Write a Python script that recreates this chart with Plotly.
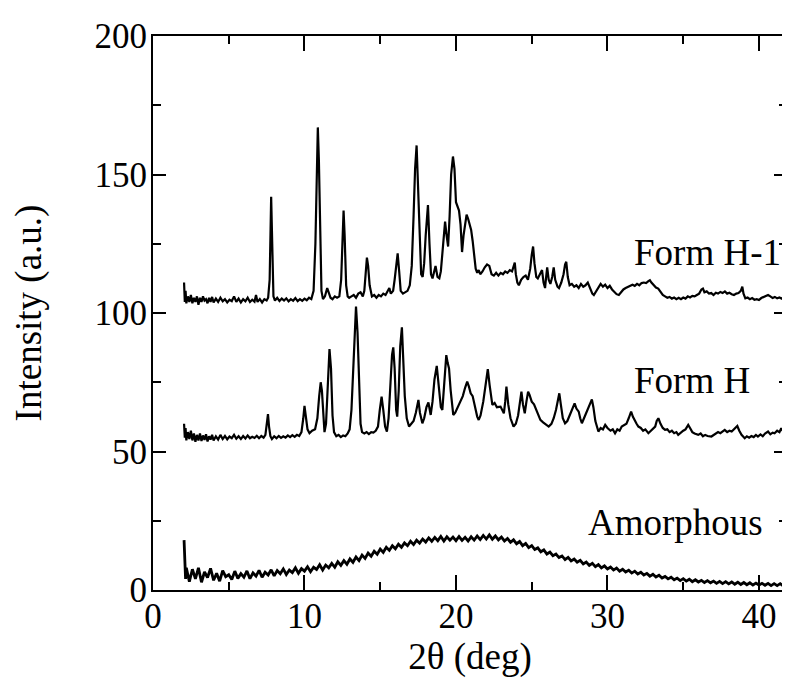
import plotly.graph_objects as go

# ---- Form H-1 ----
h1_x = [2.05,2.1,2.15,2.2,2.3,2.4,2.5,2.6,2.7,2.8,2.9,3.0,3.1,3.2,3.3,3.4,3.5,3.6,3.7,3.8,3.9,4.0,4.15,4.3,4.45,4.6,4.75,4.9,5.05,5.2,5.35,5.5,5.65,5.8,5.95,6.1,6.25,6.4,6.55,6.7,6.8,6.9,7.05,7.2,7.35,7.5,7.6,7.7,7.8,7.88,7.95,8.05,8.2,8.35,8.5,8.65,8.8,8.95,9.1,9.25,9.4,9.55,9.7,9.85,10.0,10.15,10.3,10.45,10.6,10.72,10.8,10.88,10.95,11.03,11.12,11.22,11.35,11.5,11.62,11.72,11.85,12.0,12.15,12.3,12.42,12.5,12.58,12.65,12.75,12.85,12.95,13.1,13.25,13.4,13.55,13.7,13.85,13.95,14.05,14.12,14.2,14.3,14.45,14.6,14.75,14.9,15.05,15.2,15.35,15.5,15.6,15.7,15.85,15.95,16.05,16.15,16.25,16.35,16.5,16.65,16.8,16.95,17.08,17.2,17.3,17.4,17.48,17.58,17.7,17.8,17.9,18.0,18.1,18.15,18.25,18.35,18.45,18.55,18.65,18.78,18.9,19.0,19.1,19.2,19.28,19.38,19.48,19.58,19.68,19.8,19.9,20.0,20.1,20.2,20.3,20.4,20.5,20.6,20.7,20.8,20.9,21.0,21.1,21.2,21.3,21.4,21.5,21.6,21.75,21.9,22.05,22.2,22.35,22.5,22.65,22.8,22.95,23.1,23.25,23.4,23.55,23.7,23.8,23.88,23.95,24.05,24.15,24.3,24.45,24.6,24.75,24.9,25.0,25.09,25.18,25.3,25.4,25.55,25.68,25.78,25.88,25.95,26.02,26.12,26.23,26.35,26.45,26.55,26.7,26.8,26.95,27.1,27.2,27.28,27.38,27.5,27.65,27.8,27.95,28.1,28.25,28.4,28.55,28.7,28.85,29.0,29.1,29.25,29.4,29.55,29.7,29.85,30.0,30.15,30.3,30.45,30.6,30.75,30.9,31.05,31.2,31.35,31.5,31.65,31.8,31.95,32.1,32.25,32.4,32.55,32.7,32.8,32.9,33.05,33.2,33.35,33.5,33.65,33.8,33.95,34.1,34.25,34.4,34.55,34.7,34.85,35.0,35.15,35.3,35.45,35.6,35.75,35.9,36.05,36.2,36.3,36.4,36.55,36.7,36.85,37.0,37.15,37.3,37.45,37.6,37.75,37.9,38.05,38.2,38.35,38.5,38.65,38.8,38.9,38.98,39.1,39.25,39.4,39.55,39.7,39.85,40.0,40.15,40.3,40.45,40.6,40.75,40.9,41.05,41.2,41.35,41.5,41.65,41.8]
h1_y = [111,104,108,103.5,106,104,106.5,103.5,105.5,104,106,103,105.5,104,106,104.5,105,103.5,105.5,104,105.8,103.8,105.2,104,105.5,104.2,105,103.8,104.8,104.3,106,104,105.2,103.8,105,104.2,105.5,104,104.8,104.1,106.5,104,105,103.8,105,104.5,105.5,112,142,118,106,104.5,105.5,104.3,105.2,104.5,105.3,104.2,105,104.4,105.4,104.3,105,104.4,105.2,104.6,105.5,105,108,125,150,167,155,125,108,105,106,109,107,105.5,105,106,105.5,106,112,125,137,128,110,106,105.5,106,106.5,105.5,107,107.5,106,108,115,120,117,110,106,106.5,105.5,106.5,106,107,106.5,108,109,107,108,112,117,121.5,115,108,107,107.5,108,110,117,135,152,160.5,148,125,114,113,118,128,137,139,125,114,112.5,115,117,113,112.5,115,122,130,133,128,124,135,150,156.5,152,140,138,137,132,122,128,133,135.5,134,132,130,126,121,116,114.5,115.5,114,115,116.5,117.5,117,114,113.5,114.5,113.5,114.5,114,115,114.5,115.5,115,117,118.2,114,111,110,112,113,113.5,112,116,121,124,118,113,112.5,114,115.5,111,109,113,116.5,112,110.5,113,116.5,112,109.5,109,111,114,117.5,118.5,113,110,110.5,109.5,110,109,110.5,109.5,110,111,109,107,106.5,108,109.5,110.5,109.5,110.2,109,109.8,108.5,107.5,106.8,106.5,107.5,108.5,109,109.5,110,110.2,109.8,110.5,110,110.8,111,110.8,111.5,111.8,111,110,109.2,108.8,107.8,106.5,106,105.5,105.8,105.2,105.6,105,105.5,105,105.6,105.2,106,105.6,106.2,106,106.5,107,108.5,108.8,107.5,107.8,107,107.2,106.5,107.3,107,107.6,107.2,107.8,107,107.3,106.8,106.5,107,107.2,108,109.5,107,105.3,105.6,105,105.4,104.8,105,104.7,105.4,105.8,106.3,106.5,106,105.4,105.8,105.3,105.6,105.2,106,105.9]

# ---- Form H ----
h_x = [2.05,2.1,2.15,2.2,2.3,2.4,2.5,2.6,2.7,2.8,2.9,3.0,3.1,3.2,3.3,3.4,3.5,3.6,3.7,3.8,3.9,4.0,4.15,4.3,4.45,4.6,4.75,4.9,5.05,5.2,5.35,5.5,5.65,5.8,5.95,6.1,6.25,6.4,6.55,6.7,6.85,7.0,7.15,7.3,7.42,7.52,7.59,7.66,7.75,7.85,8.0,8.15,8.3,8.45,8.6,8.75,8.9,9.05,9.2,9.35,9.5,9.65,9.8,9.92,10.0,10.08,10.2,10.33,10.5,10.7,10.85,10.97,11.07,11.15,11.25,11.32,11.42,11.55,11.65,11.75,11.85,11.95,12.1,12.25,12.4,12.55,12.7,12.85,12.98,13.1,13.2,13.3,13.4,13.5,13.6,13.7,13.8,13.95,14.1,14.25,14.4,14.55,14.7,14.85,14.97,15.09,15.2,15.32,15.44,15.55,15.68,15.78,15.86,15.95,16.05,16.12,16.22,16.32,16.43,16.52,16.62,16.75,16.9,17.05,17.2,17.35,17.45,17.52,17.62,17.78,17.9,18.05,18.18,18.33,18.45,18.58,18.73,18.85,19.0,19.1,19.22,19.36,19.45,19.54,19.65,19.82,19.95,20.1,20.3,20.45,20.6,20.74,20.85,20.97,21.1,21.25,21.4,21.5,21.62,21.8,21.95,22.1,22.22,22.4,22.55,22.7,22.94,23.05,23.16,23.25,23.33,23.45,23.6,23.8,23.95,24.1,24.22,24.32,24.42,24.54,24.65,24.76,24.85,25.0,25.15,25.3,25.45,25.57,25.75,25.95,26.12,26.3,26.45,26.6,26.72,26.82,26.92,27.05,27.2,27.35,27.5,27.65,27.83,27.95,28.1,28.2,28.31,28.45,28.6,28.75,28.9,28.97,29.07,29.2,29.4,29.55,29.7,29.85,30.0,30.2,30.35,30.5,30.65,30.8,30.94,31.1,31.25,31.4,31.56,31.68,31.8,31.92,32.04,32.2,32.35,32.5,32.7,32.85,33.0,33.15,33.25,33.36,33.5,33.65,33.8,33.95,34.1,34.25,34.4,34.55,34.67,34.85,35.0,35.15,35.33,35.45,35.6,35.75,35.99,36.15,36.3,36.45,36.6,36.86,37.0,37.15,37.3,37.45,37.6,37.74,37.9,38.05,38.2,38.35,38.5,38.57,38.7,38.85,39.06,39.2,39.35,39.5,39.65,39.8,39.93,40.1,40.25,40.4,40.6,40.75,40.9,41.03,41.2,41.35,41.47,41.6,41.8]
h_y = [60,55,58.5,54,57,54.5,57.5,54,56.5,53.5,56,54,56.5,53.8,55.8,54.2,56.2,53.6,55.5,54.3,56,54,55.5,54.3,56,54.5,55.6,54.4,55.4,54.8,56,54.6,55.5,54.5,55.6,54.7,55.8,54.8,55.3,54.9,55.7,54.8,55.6,55,56,60,63.5,59,55.5,54.5,55.5,54.8,55.6,54.9,55.5,55,55.8,55.2,55.9,55.3,56,55.6,57,62,66.5,63,58,56.6,57.5,58,62,70,75,72,62,57,60,75,87,80,63,57,55.5,56,55.2,55.8,55.5,56.5,58,65,78,95,102.3,93,72,60,57,56.5,57,56.3,57,56.8,57.5,59,65,69.8,65,59,57.2,62,75,85,87.6,80,65,62.6,72,88,94.8,85,70,62,59,60,61,64,67.5,68.6,64,60.2,62,66,67.7,63.2,68,76,80.9,74,66,65,76,84.8,82,80,72,63.2,64,66,68,70,73,75.2,73.5,71,70,66,62.6,61.4,63,68,75,79.7,74,66.8,67.5,66,66.2,65,63.8,68,73.4,67,62,59,60,63,68,71.6,67,63.8,68,71.6,70.5,68,67,65,63,61.4,60.5,59.5,59,60,62,65,68,71,67,62,60.2,61,63,65,67.4,65.5,64.4,62,60.2,62,64,66.5,68,68.8,66,61,57.2,58.5,58,59.6,58.5,57.5,58,56.6,58,57.5,59,59.5,60,62,64.4,62.5,61,60,59,58.5,57.5,58,56.6,57.5,58,59,61,62,60,58.5,57.8,58,57,57.5,56.6,57,56,57,57.5,58,59.6,58.5,57,56.5,56,56.5,55.5,56,55.6,55.4,56,56.5,57,56.6,57.2,57.8,57,57.5,57.2,58,58.5,59.2,57.5,56,54.8,55.5,55,55.6,55.2,56,55.4,56.2,55.5,56.5,57.2,56.2,56.8,56.6,57.5,57,58.4,57.2,56.6]

# ---- Amorphous ----
am_x = [2.05,2.1,2.15,2.2,2.4,2.6,2.8,3.0,3.2,3.4,3.6,3.8,4.0,4.2,4.4,4.6,4.8,5.0,5.2,5.4,5.6,5.8,6.0,6.2,6.4,6.6,6.8,7.0,7.2,7.4,7.6,7.8,8.0,8.2,8.4,8.6,8.8,9.0,9.2,9.4,9.6,9.8,10.0,10.2,10.4,10.6,10.8,11.0,11.2,11.4,11.6,11.8,12.0,12.2,12.4,12.6,12.8,13.0,13.2,13.4,13.6,13.8,14.0,14.2,14.4,14.6,14.8,15.0,15.2,15.4,15.6,15.8,16.0,16.2,16.4,16.6,16.8,17.0,17.2,17.4,17.6,17.8,18.0,18.2,18.4,18.6,18.8,19.0,19.2,19.4,19.6,19.8,20.0,20.2,20.4,20.6,20.8,21.0,21.2,21.4,21.6,21.8,22.0,22.2,22.4,22.6,22.8,23.0,23.2,23.4,23.6,23.8,24.0,24.2,24.4,24.6,24.8,25.0,25.2,25.4,25.6,25.8,26.0,26.2,26.4,26.6,26.8,27.0,27.2,27.4,27.6,27.8,28.0,28.2,28.4,28.6,28.8,29.0,29.2,29.4,29.6,29.8,30.0,30.2,30.4,30.6,30.8,31.0,31.2,31.4,31.6,31.8,32.0,32.2,32.4,32.6,32.8,33.0,33.2,33.4,33.6,33.8,34.0,34.2,34.4,34.6,34.8,35.0,35.2,35.4,35.6,35.8,36.0,36.2,36.4,36.6,36.8,37.0,37.2,37.4,37.6,37.8,38.0,38.2,38.4,38.6,38.8,39.0,39.2,39.4,39.6,39.8,40.0,40.2,40.4,40.6,40.8,41.0,41.2,41.4,41.6,41.8]
am_y = [18,9,4,8,3,7.5,4,8,2.8,6.5,4.5,7.8,3.5,6,3.2,7,4.8,5.5,3.8,6.8,4.2,5.9,4.6,6.9,4.1,6.2,5,7.1,4.6,6.4,5.4,7.3,5.1,7,5.9,7.6,5.6,7.2,6.3,8,6,7.7,6.8,8.4,6.6,8.2,7.4,9.1,7.2,9,8,9.6,8.2,10.2,8.9,10.6,9.3,11.2,10,11.9,10.6,12.6,11.4,13.3,12.2,14,12.9,14.8,13.6,15.4,14.3,16,14.9,16.5,15.4,17,16,17.6,16.4,18,16.9,18.4,17.3,18.8,17.6,19,17.8,19.3,17.7,19.2,18,19.1,17.8,19.3,17.9,19,17.7,19.2,18,19.5,18.2,19.7,18.4,19.9,18.3,19.5,18.1,19.1,17.7,18.6,17.2,18.1,16.7,17.5,16,16.8,15.3,16,14.6,15.2,13.8,14.5,13,13.7,12.4,13,11.7,12.3,11,11.8,10.5,11.2,10,10.7,9.4,10.1,8.9,9.6,8.4,9.2,8,8.7,7.6,8.3,7.2,7.9,6.8,7.5,6.5,7.1,6.1,6.8,5.8,6.4,5.4,6,5,5.7,4.7,5.3,4.3,4.9,4,4.6,3.7,4.3,3.4,4.1,3.2,3.9,3,3.7,2.9,3.5,2.7,3.4,2.6,3.2,2.4,3.1,2.3,3,2.2,2.9,2.1,2.8,2,2.7,1.9,2.6,1.8,2.5,1.8,2.4,1.7,2.4,1.6,2.3,1.6,2.3,1.5,2.2]

labels = ["Form H-1", "Form H", "Amorphous"]
label_x = [31.6, 31.6, 28.6]
label_y = [122, 75.5, 24.5]

FONT = "Times New Roman, Liberation Serif, DejaVu Serif, serif"

fig = go.Figure()
for xs, ys, w in [(h1_x, h1_y, 2.2), (h_x, h_y, 2.2), (am_x, am_y, 2.8)]:
    fig.add_trace(go.Scatter(x=xs, y=ys, mode="lines",
                             line=dict(color="black", width=w),
                             showlegend=False, hoverinfo="skip"))

for t, lx, ly in zip(labels, label_x, label_y):
    fig.add_annotation(x=lx, y=ly, xref="x", yref="y", text=t, showarrow=False,
                       xanchor="left", yanchor="middle",
                       font=dict(family=FONT, size=37, color="black"))

axis_common = dict(showline=True, linecolor="black", linewidth=2, mirror="allticks",
                   ticks="inside", tickcolor="black", tickwidth=2,
                   showgrid=False, zeroline=False,
                   tickfont=dict(family=FONT, size=35, color="black"))

fig.update_xaxes(range=[0, 41.85], dtick=10, tick0=0, ticklen=15, ticklabelstandoff=-6,
                 title=dict(text="2θ (deg)", font=dict(family=FONT, size=37, color="black"), standoff=4),
                 minor=dict(dtick=5, tick0=0, ticks="inside", ticklen=8, tickwidth=2, tickcolor="black"),
                 **axis_common)
fig.update_yaxes(range=[0, 200], dtick=50, tick0=0, ticklen=13, ticklabelstandoff=-3,
                 title=dict(text="Intensity (a.u.)", font=dict(family=FONT, size=37, color="black"), standoff=43),
                 minor=dict(dtick=25, tick0=0, ticks="inside", ticklen=8, tickwidth=2, tickcolor="black"),
                 **axis_common)

# page body has an 8px margin, so the figure is sized to fit the 790x682 window
fig.update_layout(width=782, height=674, margin=dict(l=145, r=1, t=28, b=92),
                  paper_bgcolor="white", plot_bgcolor="white",
                  font=dict(family=FONT, color="black"))

fig.write_html("out.html")
